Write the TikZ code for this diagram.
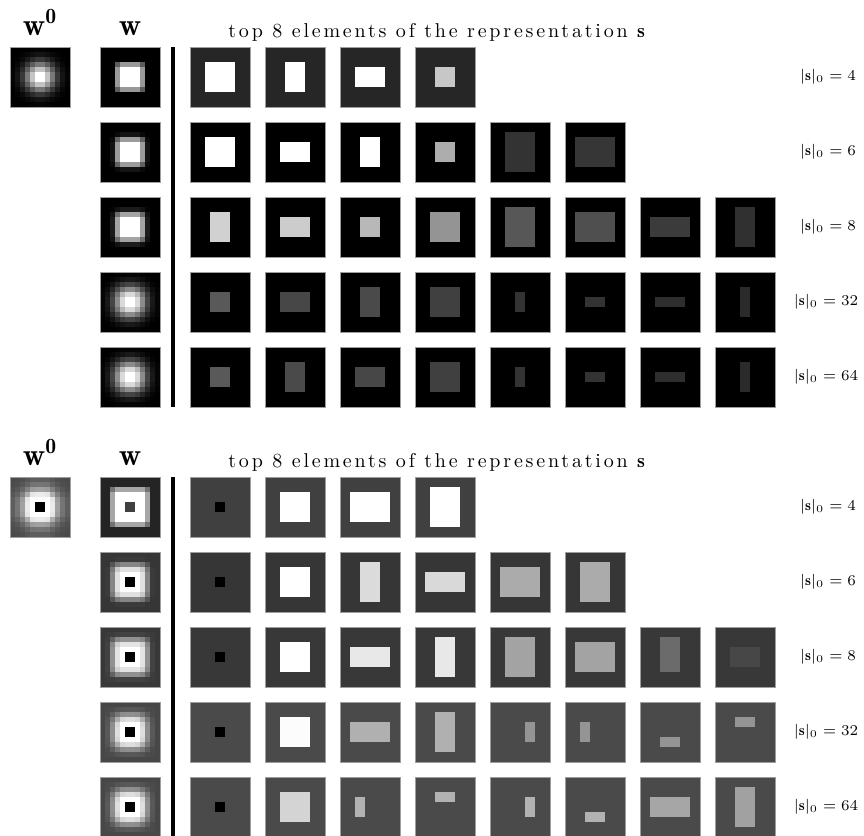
\documentclass[tikz,border=0pt]{standalone}
\usepackage{fix-cm}
\usepackage{fontspec}
\usepackage{amsmath}
\newfontfamily\spacedrm{Latin Modern Roman}[LetterSpace=14]
\definecolor{Rim}{gray}{0.62}

\tikzset{
  rim/.style={draw=Rim,line width=0.4pt},
  lab/.style={font=\fontsize{7.5}{9}\selectfont},
  head/.style={font=\fontsize{15.5}{18}\selectfont},
  ttl/.style={font=\spacedrm\fontsize{10}{12}\selectfont,inner sep=0pt},
}

% #1 x, #2 y, #3 background level, #4 profile of the 12 columns
\newcommand{\pixtile}[4]{%
  \foreach \i in {0,...,11}{%
    \foreach \j in {0,...,11}{%
      \pgfmathsetmacro\pa{{#4}[\i]}%
      \pgfmathsetmacro\pb{{#4}[\j]}%
      \pgfmathtruncatemacro\v{100*(#3+(1-#3)*min(1,\pa*\pb))}%
      \fill[white!\v!black] (#1+5*\i,#2+5*\j) rectangle ++(5.3,5.3);
    }}%
  \draw[rim] (#1,#2) rectangle ++(60,60);}

% #1 y, #2 background level, #3 column/level/x1/y1/x2/y2 in cells
\newcommand{\blockrow}[3]{%
  \foreach \k/\fg/\xa/\ya/\xb/\yb in {#3}{%
    \begin{scope}[shift={(190+75*\k,#1)}]
      \fill[white!#2!black] (0,0) rectangle (60,60);
      \fill[white!\fg!black] (5*\xa,5*\ya) rectangle (5*\xb,5*\yb);
      \draw[rim] (0,0) rectangle (60,60);
    \end{scope}}}

\begin{document}
\begin{tikzpicture}[x=0.5pt,y=-0.5pt]
\useasboundingbox (0,0) rectangle (864,836);

% upper panel
\node[head,anchor=base] (wzeroA) at (40,35) {$\mathbf{w}^{\mathbf{0}}$};
\node[head,anchor=base] (wA) at (130,35) {$\mathbf{w}$};
\node[ttl,anchor=base west] (titleA) at (228,37) {top 8 elements of the representation $\mathbf{s}$};
\pixtile{10}{47}{0}{0.02,0.08,0.22,0.47,0.78,1,1,0.78,0.47,0.22,0.08,0.02}
\pixtile{100}{47}{0}{0,0,0,0.6,1,1,1,1,0.6,0,0,0}
\pixtile{100}{122}{0}{0,0,0.08,0.62,1,1,1,1,0.62,0.08,0,0}
\pixtile{100}{197}{0}{0,0,0.12,0.65,1,1,1,1,0.65,0.12,0,0}
\pixtile{100}{272}{0}{0.03,0.1,0.28,0.55,0.85,1,1,0.85,0.55,0.28,0.1,0.03}
\pixtile{100}{347}{0}{0.03,0.1,0.28,0.55,0.85,1,1,0.85,0.55,0.28,0.1,0.03}
\fill (171,47) rectangle (175,407);
\blockrow{47}{15}{0/100/3/3/9/9,1/100/4/3/8/9,2/100/3/4/9/8,3/78/4/4/8/8}
\blockrow{122}{0}{0/100/3/3/9/9,1/100/3/4/9/8,2/100/4/3/8/9,3/68/4/4/8/8,4/20/3/2/9/10,5/21/2/3/10/9}
\blockrow{197}{0}{0/82/4/3/8/9,1/80/3/4/9/8,2/72/4/4/8/8,3/58/3/3/9/9,4/34/3/2/9/10,5/31/2/3/10/9,6/23/2/4/10/8,7/19/4/2/8/10}
\blockrow{272}{0}{0/35/4/4/8/8,1/28/3/4/9/8,2/29/4/3/8/9,3/25/3/3/9/9,4/20/5/4/7/8,5/20/4/5/8/7,6/18/3/5/9/7,7/17/5/3/7/9}
\blockrow{347}{0}{0/35/4/4/8/8,1/29/4/3/8/9,2/28/3/4/9/8,3/25/3/3/9/9,4/20/5/4/7/8,5/20/4/5/8/7,6/18/3/5/9/7,7/17/5/3/7/9}
\node[lab] (nA1) at (828,77) {$|\mathbf{s}|_0 = 4$};
\node[lab] (nA2) at (828,152) {$|\mathbf{s}|_0 = 6$};
\node[lab] (nA3) at (828,227) {$|\mathbf{s}|_0 = 8$};
\node[lab] (nA4) at (826,302) {$|\mathbf{s}|_0 = 32$};
\node[lab] (nA5) at (826,377) {$|\mathbf{s}|_0 = 64$};

% lower panel
\node[head,anchor=base] (wzeroB) at (40,465) {$\mathbf{w}^{\mathbf{0}}$};
\node[head,anchor=base] (wB) at (130,465) {$\mathbf{w}$};
\node[ttl,anchor=base west] (titleB) at (228,467) {top 8 elements of the representation $\mathbf{s}$};
\pixtile{10}{477}{0.29}{0.1,0.2,0.4,0.75,1.15,1.2,1.2,1.15,0.75,0.4,0.2,0.1}
\fill[black] (35,502) rectangle ++(10,10);
\pixtile{100}{477}{0.15}{0,0,0.6,1,1,1,1,1,1,0.6,0,0}
\fill[white!25!black] (125,502) rectangle ++(10,10);
\pixtile{100}{552}{0.21}{0,0.03,0.4,0.85,1,1,1,1,0.85,0.4,0.03,0}
\fill[black] (125,577) rectangle ++(10,10);
\pixtile{100}{627}{0.23}{0,0.05,0.45,0.87,1,1,1,1,0.87,0.45,0.05,0}
\fill[black] (125,652) rectangle ++(10,10);
\pixtile{100}{702}{0.29}{0,0.08,0.35,0.75,1.05,1.1,1.1,1.05,0.75,0.35,0.08,0}
\fill[black] (125,727) rectangle ++(10,10);
\pixtile{100}{777}{0.29}{0,0.08,0.35,0.75,1.05,1.1,1.1,1.05,0.75,0.35,0.08,0}
\fill[black] (125,802) rectangle ++(10,10);
\fill (171,477) rectangle (175,836);
\blockrow{477}{25}{0/0/5/5/7/7,1/100/3/3/9/9,2/100/2/3/10/9,3/100/3/2/9/10}
\blockrow{552}{21}{0/0/5/5/7/7,1/100/3/3/9/9,2/86/4/2/8/10,3/85/2/4/10/8,4/67/2/3/10/9,5/67/3/2/9/10}
\blockrow{627}{22}{0/0/5/5/7/7,1/100/3/3/9/9,2/91/2/4/10/8,3/91/4/2/8/10,4/64/3/2/9/10,5/64/2/3/10/9,6/42/4/2/8/9,7/28/3/4/9/8}
\blockrow{702}{29}{0/0/5/5/7/7,1/99/3/3/9/9,2/69/2/4/10/8,3/69/4/2/8/10,4/58/7/4/9/8,5/58/3/4/5/8,6/58/4/7/8/9,7/58/4/3/8/5}
\blockrow{777}{29}{0/0/5/5/7/7,1/83/3/3/9/9,2/70/3/4/5/8,3/70/4/3/8/5,4/70/7/4/9/8,5/70/4/7/8/9,6/65/2/4/10/8,7/63/4/2/8/10}
\node[lab] (nB1) at (828,507) {$|\mathbf{s}|_0 = 4$};
\node[lab] (nB2) at (828,582) {$|\mathbf{s}|_0 = 6$};
\node[lab] (nB3) at (828,657) {$|\mathbf{s}|_0 = 8$};
\node[lab] (nB4) at (826,732) {$|\mathbf{s}|_0 = 32$};
\node[lab] (nB5) at (826,807) {$|\mathbf{s}|_0 = 64$};
\end{tikzpicture}
\end{document}
